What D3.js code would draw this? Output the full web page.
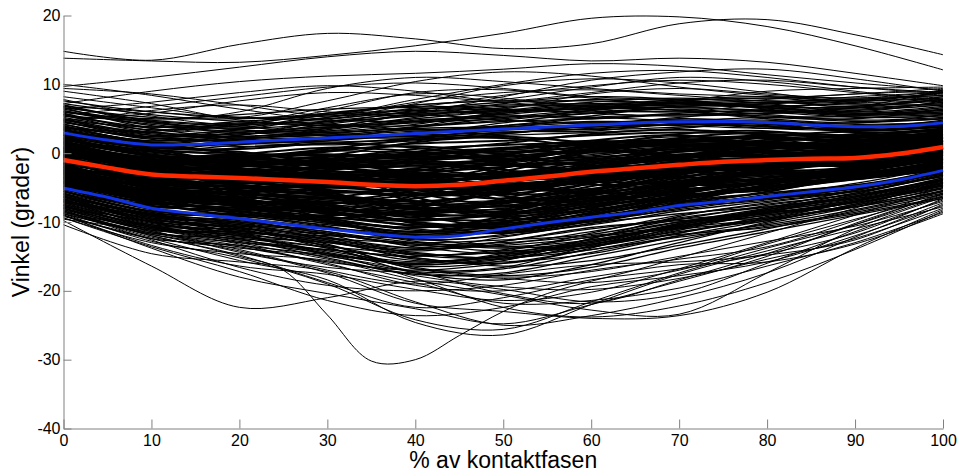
<!DOCTYPE html>
<html>
<head>
<meta charset="utf-8">
<script src="https://cdn.jsdelivr.net/npm/d3@7"></script>
<style>
  html, body { margin: 0; padding: 0; background: #fff; }
  svg { display: block; }
  .tick text { font-family: "Liberation Sans", Arial, sans-serif; font-size: 16px; fill: #000; }
</style>
</head>
<body>
<svg id="chart" width="959" height="475"></svg>
<script>
// Sample positions (% of contact phase)
const pct = [0, 10, 20, 30, 40, 50, 60, 70, 80, 90, 100];
const pct5 = [0, 5, 10, 15, 20, 25, 30, 35, 40, 45, 50, 55, 60, 65, 70, 75, 80, 85, 90, 95, 100];

const xTicks = [0, 10, 20, 30, 40, 50, 60, 70, 80, 90, 100];
const yTicks = [-40, -30, -20, -10, 0, 10, 20];

// Individual trials, joint angle (degrees) at each value of pct
const trialsCentral = [
  [-1.2,-3.0,-3.9,-4.5,-5.0,-4.2,-3.1,-1.9,-1.0,-0.4,1.0],
  [-0.5,-2.8,-3.2,-3.5,-3.9,-3.6,-2.5,-1.2,-0.8,-0.9,0.5],
  [-1.8,-4.1,-4.4,-4.0,-4.3,-4.6,-3.5,-2.2,-1.5,-1.2,0.2],
  [0.2,-2.5,-3.0,-4.6,-5.8,-5.2,-3.8,-2.5,-1.9,-0.8,1.4],
  [-2.4,-4.6,-4.8,-5.0,-5.4,-4.2,-2.2,-0.8,-0.3,0.1,1.6],
  [-0.8,-3.6,-3.1,-3.0,-3.4,-3.0,-2.0,-1.0,-1.3,-1.5,0.0],
  [-1.5,-3.2,-4.2,-5.3,-6.0,-5.5,-4.2,-2.8,-1.6,-0.5,1.2],
  [0.5,-1.9,-2.5,-3.2,-4.0,-4.4,-3.6,-2.4,-1.4,-0.6,0.6],
  [-2.0,-3.9,-3.4,-3.0,-3.2,-2.8,-1.6,-0.4,0.2,0.0,1.8],
  [-1.0,-3.5,-4.6,-5.6,-5.2,-3.9,-2.4,-1.4,-1.2,-1.0,0.4],
  [-0.2,-2.2,-3.6,-4.8,-4.4,-3.2,-2.6,-2.0,-1.0,0.4,2.0],
  [-1.6,-4.4,-4.0,-3.6,-4.9,-5.0,-3.0,-1.2,-0.6,-0.2,0.9],
  [-0.6,-3.1,-3.8,-4.2,-3.6,-2.9,-2.2,-1.8,-1.8,-1.1,0.3],
  [-2.8,-4.8,-5.2,-4.6,-4.0,-3.4,-3.2,-2.6,-1.4,-0.3,1.1],
  [0.8,-1.6,-2.4,-3.9,-5.3,-5.9,-4.4,-2.2,-0.9,-0.4,1.3],
  [-1.3,-3.8,-3.5,-3.3,-4.7,-4.8,-3.9,-2.9,-2.0,-1.2,0.1],
  [-0.9,-2.6,-2.8,-3.6,-4.2,-3.4,-1.9,-0.6,-0.1,-0.2,1.5],
  [-2.1,-4.2,-4.9,-5.5,-6.2,-5.6,-3.6,-1.6,-1.1,-1.3,0.6],
  [0.0,-2.9,-3.3,-2.7,-3.0,-3.6,-3.4,-2.0,-0.7,0.3,1.9],
  [-1.4,-3.4,-3.7,-4.4,-4.9,-4.1,-2.7,-1.5,-1.2,-0.9,0.7],
  [2.0,-0.5,-2.4,-3.8,-2.6,-0.4,1.8,2.6,1.2,-0.4,1.6],
  [-3.4,-6.8,-5.2,-2.6,-1.4,-2.8,-4.6,-4.0,-2.2,0.6,2.8],
  [0.4,-4.2,-7.6,-8.4,-6.2,-3.4,-1.0,0.6,0.2,-1.6,-0.8],
  [-4.4,-4.0,-2.0,-1.2,-3.4,-6.8,-7.4,-5.2,-2.6,-1.4,0.2],
  [1.4,0.2,-1.2,-0.4,1.6,2.4,1.4,-0.6,-2.4,-2.0,0.4],
  [-2.6,-6.2,-8.8,-9.6,-8.0,-5.6,-3.0,-1.8,-2.4,-3.6,-2.2],
  [-0.2,-2.0,-1.0,-2.8,-6.4,-8.8,-7.2,-3.8,-0.8,1.0,2.2],
  [-5.0,-7.4,-6.0,-4.2,-4.6,-6.0,-5.4,-3.0,-0.6,0.4,1.0],
  [2.6,1.0,0.2,-1.6,-3.8,-5.2,-4.0,-1.4,0.8,2.2,3.6],
  [-1.8,-5.2,-6.8,-7.0,-5.4,-2.2,0.4,1.8,2.6,2.4,3.0],
  [0.8,-2.4,-4.8,-6.2,-7.4,-7.0,-4.8,-2.6,-1.2,-0.2,1.2],
  [-3.8,-5.4,-4.2,-5.6,-9.0,-10.4,-8.0,-4.2,-2.0,-1.8,-0.4],
  [1.0,-1.6,-3.0,-2.0,0.2,1.4,2.8,3.4,2.6,1.4,2.0],
  [-2.2,-3.8,-6.4,-9.4,-10.8,-9.2,-6.0,-3.4,-2.8,-2.6,-0.6],
  [-0.8,-4.8,-5.6,-4.0,-2.2,-1.8,-2.8,-3.6,-2.8,-0.8,1.6],
  [3.4,0.6,-1.4,-3.4,-5.0,-4.2,-2.0,0.2,1.2,0.4,1.0],
  [-4.6,-7.0,-8.2,-7.4,-6.0,-5.2,-5.8,-5.6,-4.0,-1.8,0.0],
  [0.0,-1.2,-0.2,0.8,0.2,-1.4,-2.6,-2.2,-0.4,0.8,2.6],
  [-1.2,-4.4,-7.2,-10.0,-11.4,-10.0,-7.6,-5.4,-4.2,-2.8,-0.2],
  [2.4,-0.2,-0.6,0.6,2.0,2.2,0.8,-0.4,0.2,1.6,3.2],
  [-3.0,-4.6,-3.8,-3.2,-5.8,-7.6,-6.6,-6.0,-5.4,-3.6,-1.8],
  [-0.4,-3.6,-5.0,-6.0,-7.0,-5.8,-3.4,-0.6,1.0,1.2,2.4],
  [1.8,-1.8,-3.6,-3.0,-2.4,-3.2,-2.0,-0.2,-0.6,-1.4,0.8],
  [-2.8,-5.8,-7.8,-8.6,-9.8,-8.6,-5.8,-3.6,-2.0,-0.6,1.4],
  [0.6,-0.8,-2.2,-4.4,-4.2,-2.0,-0.8,-1.2,-2.2,-1.0,0.6],
  [-4.0,-6.6,-6.8,-5.0,-3.0,-3.8,-6.2,-7.0,-5.6,-3.2,-1.6],
  [2.8,0.8,0.6,1.4,0.8,-0.8,-1.0,0.4,2.4,3.2,3.8],
  [-1.6,-2.8,-4.8,-7.6,-8.8,-6.6,-3.8,-2.8,-3.0,-2.2,0.0],
  [-0.6,-3.4,-2.4,-1.6,-2.8,-4.8,-5.2,-3.2,-1.0,0.0,1.4],
  [1.6,-1.0,-2.6,-5.6,-8.2,-8.4,-5.6,-2.4,-0.4,0.6,2.2],
  [-3.6,-6.4,-7.4,-6.6,-7.8,-9.4,-9.6,-7.2,-4.6,-2.4,-1.0],
  [0.2,-2.6,-3.4,-2.4,-1.2,0.6,1.8,0.8,-0.8,-0.6,1.8],
  [-2.4,-4.4,-5.4,-5.8,-5.2,-4.8,-4.2,-3.0,-1.8,-1.6,-0.2],
  [1.2,-0.6,-0.4,-1.8,-3.6,-2.6,0.2,2.2,3.0,2.6,3.4],
  [-5.2,-7.8,-7.2,-7.6,-10.2,-10.8,-8.6,-6.4,-4.8,-3.8,-2.4],
  [-1.0,-2.4,-4.0,-5.0,-4.4,-4.6,-5.6,-4.4,-2.4,-0.2,1.8],
  [0.4,-3.0,-6.0,-7.2,-6.6,-4.2,-1.6,0.4,0.8,0.0,1.0],
  [-2.0,-3.6,-2.6,-3.8,-7.0,-8.6,-6.8,-4.8,-3.6,-2.0,-0.2],
  [3.0,1.4,-0.2,-2.0,-2.6,-1.2,1.0,2.8,3.2,2.0,2.6],
  [-3.2,-7.2,-9.0,-9.0,-8.6,-7.2,-6.0,-4.2,-2.2,-0.8,0.4],
  [-0.4,-1.4,-1.8,-2.6,-3.0,-1.4,0.6,1.2,0.4,-0.6,0.8],
  [-4.2,-6.0,-5.0,-6.2,-8.0,-7.0,-4.4,-2.6,-2.6,-3.0,-1.6],
  [1.4,-1.4,-4.2,-4.6,-3.0,-2.0,-1.4,-0.4,1.6,2.8,3.2],
  [-2.6,-5.0,-5.8,-7.4,-10.2,-11.6,-9.8,-6.6,-4.2,-2.2,0.2],
  [0.0,-2.0,-2.6,-3.4,-5.4,-6.6,-5.2,-2.8,-1.4,-1.2,1.0],
  [-1.4,-3.0,-5.6,-6.4,-4.8,-3.2,-3.0,-2.4,-1.0,0.6,2.4],
  [2.2,-0.4,-1.6,-2.2,-1.4,-2.4,-3.8,-2.8,-0.8,0.2,1.6],
  [-3.4,-5.6,-6.6,-8.2,-7.6,-5.4,-4.2,-4.6,-4.4,-2.8,-0.8],
  [-0.2,-3.8,-4.4,-3.2,-3.8,-6.2,-7.0,-5.0,-2.2,0.2,2.0],
  [0.8,-1.6,-1.0,0.4,1.0,-0.2,-1.8,-1.4,0.6,1.8,2.8],
  [0.4,-2.2,-1.6,-0.8,0.6,1.2,1.6,2.0,1.4,0.8,2.2],
  [-1.0,-2.6,-2.0,-1.2,-0.4,0.6,1.4,1.8,2.2,1.8,2.4],
  [1.6,-0.2,-1.4,-1.0,0.0,0.2,0.2,0.6,1.2,1.0,1.4],
  [-0.4,-3.0,-2.8,-1.8,-0.8,-0.4,0.4,1.6,1.4,0.2,1.2],
  [0.8,-1.2,-0.8,0.2,1.4,1.8,2.6,3.0,2.8,2.2,3.0],
  [-1.6,-3.2,-2.8,-2.2,-1.8,-1.0,-0.6,0.2,0.8,0.6,1.8],
  [2.0,0.4,0.0,-0.4,-0.2,0.8,1.2,1.0,0.4,0.6,2.0],
  [0.0,-1.8,-2.4,-2.0,-1.2,-1.6,-1.2,-0.2,0.6,1.2,2.6],
  [-3.8,-6.0,-7.4,-8.8,-9.6,-9.0,-7.8,-6.2,-4.8,-3.2,-1.2],
  [-2.8,-5.4,-7.0,-8.0,-9.4,-9.8,-8.4,-6.0,-4.0,-2.6,-0.8],
  [-4.8,-7.2,-8.0,-9.2,-10.4,-10.0,-8.0,-5.8,-4.4,-3.6,-1.8],
  [-3.0,-6.6,-7.6,-8.4,-10.0,-10.6,-9.0,-6.8,-5.0,-3.4,-1.6],
  [-4.0,-6.2,-7.8,-9.8,-10.8,-9.6,-7.6,-6.4,-5.2,-3.8,-2.0],
  [-3.6,-5.8,-6.6,-8.6,-10.6,-10.2,-8.8,-6.6,-4.6,-2.8,-0.6],
  [-2.4,-5.6,-7.2,-8.2,-8.8,-9.2,-8.2,-6.4,-5.0,-3.6,-1.4],
  [-4.4,-6.8,-8.4,-9.4,-9.8,-8.8,-7.4,-5.6,-4.2,-3.0,-1.2]
];

const trialsAboveMean = [
  [1.2,-1.0,-0.8,-1.1,-0.6,0.0,0.8,1.6,1.7,1.2,2.6],
  [0.6,-1.5,-1.4,-0.4,-0.2,-0.6,0.2,1.0,1.4,1.8,3.0],
  [1.8,-0.4,-0.2,-0.8,-1.5,-1.0,0.4,1.9,2.2,1.6,2.4],
  [0.2,-1.8,-1.6,-1.3,-0.8,0.4,1.2,1.4,1.0,1.0,2.2],
  [1.5,-0.8,-1.2,-1.9,-2.0,-1.2,-0.2,1.0,1.8,2.0,2.8],
  [-0.2,-1.3,-0.5,-0.2,-0.9,-0.5,0.7,2.1,2.4,1.9,3.2],
  [2.2,0.0,-0.7,-1.4,-1.2,-0.2,1.0,1.5,1.2,0.9,2.0],
  [0.9,-1.2,-1.0,-0.6,0.2,0.6,0.0,0.8,1.6,1.4,2.5],
  [1.0,-0.9,-1.8,-2.2,-1.6,-0.8,0.6,1.2,1.9,2.4,3.4],
  [0.4,-1.6,-1.1,-1.5,-1.0,-0.1,1.4,2.4,2.0,1.1,2.1],
  [1.6,-1.4,-0.6,0.3,0.0,-0.9,-0.4,0.9,1.3,1.6,2.9],
  [-0.4,-2.0,-1.9,-1.2,-0.3,0.2,0.9,1.3,1.5,1.3,2.3],
  [2.6,0.5,-0.3,-0.9,-1.8,-1.5,0.1,1.7,2.3,2.0,2.7],
  [0.7,-1.1,-1.3,-0.9,-0.5,-0.4,0.3,1.2,1.1,1.5,2.6],
  [1.3,-0.6,-0.4,-0.1,-0.7,-0.2,1.1,2.0,1.6,1.2,1.8],
  [3.2,1.0,1.5,2.0,2.6,3.0,3.6,4.2,4.0,3.4,4.0],
  [2.5,0.4,1.2,2.4,3.2,3.6,3.4,3.8,4.4,4.0,4.6],
  [3.8,1.6,1.0,1.4,2.2,3.4,4.2,4.8,4.2,3.2,3.8],
  [2.8,0.8,2.0,2.8,2.4,2.8,4.0,4.6,3.8,3.6,4.8],
  [4.2,2.0,1.8,1.6,2.0,2.6,3.0,3.6,4.6,4.2,4.4],
  [2.0,0.2,0.8,1.8,3.0,3.8,4.4,4.0,3.6,3.8,4.2],
  [3.5,1.4,2.2,2.6,3.4,3.2,3.2,4.4,4.8,3.8,4.1],
  [2.6,1.2,1.4,1.2,1.8,2.8,4.0,5.0,4.4,3.0,3.6],
  [3.0,0.6,1.6,2.2,2.8,3.4,3.8,4.2,3.9,3.5,4.5],
  [3.6,1.8,2.4,3.0,3.6,3.8,3.8,4.6,4.2,4.4,5.0],
  [2.3,0.9,1.9,2.3,2.2,3.0,3.5,4.1,4.3,3.6,4.3],
  [4.0,1.5,1.3,2.0,3.0,4.0,4.6,4.4,3.6,3.3,4.0],
  [5.2,3.4,4.0,5.0,6.0,6.8,7.0,7.2,6.6,5.8,6.2],
  [6.0,4.2,3.2,3.8,5.0,6.2,7.4,8.0,7.2,6.0,6.8],
  [4.6,2.6,3.6,5.6,6.8,6.4,6.0,6.8,7.4,7.0,7.6],
  [6.8,4.8,4.2,4.6,5.4,6.6,7.8,7.6,6.8,6.6,7.2],
  [5.6,3.0,2.8,3.6,5.2,7.2,8.2,7.8,6.4,5.6,6.0],
  [7.2,5.6,4.6,4.0,4.4,5.6,6.6,7.0,7.4,7.8,8.4],
  [4.8,3.8,4.6,5.4,5.8,6.0,6.6,7.6,8.0,7.2,7.0],
  [6.4,4.4,3.6,4.4,6.2,7.4,7.6,7.2,6.8,7.4,8.8],
  [5.0,2.8,2.4,3.2,4.6,5.8,6.8,7.8,8.2,7.6,8.0],
  [6.6,5.2,5.0,5.6,6.4,7.0,7.2,7.4,7.0,6.4,7.4],
  [4.2,2.2,2.6,4.2,5.6,6.2,6.4,6.6,6.2,5.4,5.6],
  [7.0,4.6,3.4,3.0,3.8,5.2,6.4,7.4,7.6,6.8,9.2],
  [4.6,2.2,2.0,3.4,4.8,5.2,5.8,6.4,5.6,4.8,5.2],
  [5.8,3.2,1.8,2.0,3.8,5.8,6.8,6.2,5.2,5.0,6.4],
  [3.6,3.2,4.4,4.2,3.4,4.0,5.4,6.8,6.6,5.6,5.8],
  [6.2,4.0,3.0,2.6,2.4,3.6,5.2,5.6,5.8,6.2,7.0],
  [4.0,1.6,2.6,4.6,5.6,4.8,4.4,5.2,6.4,6.8,7.8],
  [5.4,4.6,3.8,3.2,4.2,6.0,7.0,6.8,6.0,5.2,5.4],
  [3.4,1.8,3.0,3.8,4.0,4.8,6.2,7.2,6.8,5.8,6.6],
  [6.6,3.6,2.4,3.6,5.8,6.4,5.8,5.4,5.8,6.6,8.2],
  [4.4,3.0,2.2,2.8,3.8,4.6,5.0,5.8,6.2,5.6,6.0],
  [5.0,2.4,3.4,5.2,6.2,5.6,5.0,5.6,5.4,4.6,5.0],
  [7.6,6.0,5.2,4.8,4.6,5.0,6.2,7.2,6.6,6.0,7.6],
  [4.8,2.6,1.6,1.8,2.8,4.4,5.8,6.0,5.0,4.4,5.6],
  [6.0,5.0,5.6,6.4,6.6,6.2,6.4,6.8,7.2,7.6,8.8],
  [3.8,2.4,2.8,3.6,4.6,5.4,5.2,4.8,5.2,5.4,6.4],
  [5.6,3.8,4.2,5.8,7.0,7.6,6.8,6.2,6.0,6.6,7.8]
];

const trialsBelowMean = [
  [-3.2,-5.4,-6.0,-7.0,-8.2,-7.6,-6.0,-4.4,-3.6,-2.6,-0.8],
  [-2.6,-5.9,-6.8,-7.8,-8.8,-8.0,-6.6,-4.9,-3.9,-3.0,-1.2],
  [-3.8,-6.2,-6.0,-6.4,-7.2,-7.8,-6.8,-5.0,-3.5,-2.2,-0.4],
  [-2.2,-5.0,-6.6,-8.2,-9.0,-7.4,-5.4,-4.0,-3.8,-3.2,-1.4],
  [-3.5,-5.6,-5.6,-6.5,-7.9,-8.6,-7.0,-4.6,-3.0,-2.4,-0.6],
  [-2.9,-6.0,-7.0,-7.2,-7.6,-7.0,-5.8,-4.8,-4.2,-3.1,-1.0],
  [-4.1,-6.4,-6.4,-7.6,-9.2,-8.4,-6.2,-4.0,-3.2,-2.8,-1.6],
  [-2.4,-5.2,-5.8,-6.8,-8.0,-8.2,-7.2,-5.4,-4.0,-2.4,-0.2],
  [-3.0,-5.8,-6.4,-7.4,-8.6,-7.2,-5.6,-4.2,-3.4,-3.0,-1.3],
  [-3.6,-5.3,-6.2,-7.9,-8.4,-7.6,-6.4,-5.2,-4.4,-3.4,-1.1],
  [-2.0,-5.1,-6.0,-6.6,-7.4,-7.8,-6.4,-4.6,-3.6,-2.2,-0.5],
  [-3.3,-6.1,-6.9,-8.0,-9.0,-8.8,-6.9,-4.7,-3.3,-2.6,-0.9],
  [-2.7,-5.5,-5.9,-6.2,-7.0,-6.9,-5.9,-4.5,-3.8,-3.0,-1.5],
  [-4.3,-6.6,-7.1,-7.5,-8.1,-7.3,-6.1,-4.9,-3.9,-2.7,-0.7],
  [-3.1,-5.7,-6.3,-7.1,-8.5,-8.1,-6.5,-4.3,-3.1,-2.5,-1.0],
  [-5.2,-7.6,-8.6,-10.2,-12.0,-11.4,-9.4,-7.4,-6.4,-5.2,-2.8],
  [-4.6,-8.2,-9.4,-10.8,-11.6,-10.6,-9.2,-7.8,-6.8,-5.0,-2.4],
  [-5.6,-7.8,-8.2,-9.8,-12.4,-12.0,-10.2,-7.6,-5.8,-4.6,-3.0],
  [-4.4,-8.0,-9.6,-11.0,-11.8,-11.0,-9.8,-8.2,-6.6,-5.4,-2.6],
  [-5.8,-8.4,-8.8,-9.8,-11.2,-11.6,-9.6,-7.0,-5.8,-4.8,-2.2],
  [-4.8,-7.4,-8.8,-10.6,-12.6,-11.8,-9.0,-7.2,-6.6,-5.6,-3.2],
  [-5.4,-8.6,-9.2,-10.4,-11.4,-10.8,-10.0,-8.0,-6.2,-4.4,-2.0],
  [-5.0,-7.2,-8.4,-10.0,-12.2,-11.2,-9.2,-7.4,-6.6,-5.2,-3.4],
  [-6.2,-8.8,-9.0,-10.2,-11.8,-11.4,-9.8,-7.8,-6.0,-4.6,-2.6],
  [-4.2,-7.0,-8.0,-9.6,-11.0,-11.6,-10.4,-8.4,-7.0,-5.4,-2.9],
  [-5.5,-8.1,-9.1,-10.7,-12.1,-11.1,-9.5,-7.5,-6.3,-5.1,-2.5],
  [-4.9,-7.7,-8.5,-9.9,-11.5,-11.3,-9.7,-7.7,-6.5,-4.9,-2.7],
  [-7.0,-10.2,-11.6,-13.4,-15.6,-15.0,-13.0,-10.6,-9.0,-7.2,-4.6],
  [-6.4,-9.6,-11.0,-13.8,-16.4,-15.6,-12.4,-10.0,-9.4,-7.6,-5.2],
  [-7.6,-10.8,-12.2,-13.0,-14.8,-14.4,-13.6,-11.2,-8.6,-6.6,-4.0],
  [-6.8,-9.8,-11.8,-14.4,-16.0,-14.6,-12.6,-10.8,-9.6,-7.8,-5.6],
  [-8.0,-11.2,-11.4,-12.8,-15.2,-16.0,-13.8,-10.2,-8.4,-6.8,-3.8],
  [-7.2,-10.4,-12.6,-14.0,-15.0,-14.0,-12.2,-11.0,-9.8,-7.4,-4.8],
  [-6.0,-9.0,-11.2,-13.2,-16.8,-16.6,-13.4,-10.4,-8.8,-7.0,-4.4],
  [-8.4,-11.6,-12.4,-13.6,-14.6,-15.2,-14.0,-11.6,-9.2,-7.2,-5.0],
  [-7.4,-10.0,-10.8,-12.6,-15.4,-15.8,-14.6,-12.0,-9.8,-7.6,-4.2],
  [-6.6,-10.6,-12.0,-14.2,-15.8,-14.8,-12.8,-10.2,-8.2,-6.4,-3.6],
  [-7.8,-10.4,-11.2,-13.0,-14.4,-15.4,-13.2,-11.4,-9.6,-7.0,-4.8],
  [-8.6,-11.0,-12.8,-14.6,-16.2,-15.2,-13.6,-10.8,-8.6,-7.8,-5.4],
  [-6.6,-9.2,-10.2,-11.6,-13.4,-13.2,-11.4,-9.4,-7.8,-6.2,-3.6],
  [-5.8,-9.4,-11.4,-12.4,-13.0,-12.6,-11.8,-9.6,-7.6,-5.8,-3.2],
  [-7.2,-9.0,-9.8,-11.8,-14.6,-14.2,-11.6,-9.0,-7.4,-6.0,-3.8],
  [-6.2,-9.6,-10.6,-11.0,-12.8,-13.8,-12.8,-10.4,-8.4,-6.4,-4.0],
  [-7.0,-8.8,-10.8,-12.8,-14.2,-12.8,-10.8,-9.8,-8.8,-6.8,-4.2],
  [-5.6,-8.4,-9.6,-12.2,-14.8,-15.0,-12.4,-9.2,-7.2,-5.6,-3.4],
  [-6.4,-10.0,-11.6,-12.0,-12.4,-13.6,-13.4,-11.0,-8.2,-5.8,-3.0],
  [-7.8,-9.8,-10.4,-12.4,-13.8,-12.2,-10.2,-8.8,-7.8,-6.6,-4.6],
  [-6.0,-9.0,-10.0,-11.4,-13.6,-14.6,-13.2,-10.8,-8.0,-5.4,-2.8],
  [-7.4,-10.6,-11.0,-11.8,-13.2,-13.0,-12.0,-10.6,-9.0,-7.0,-4.4],
  [-8.2,-11.0,-12.0,-14.8,-17.2,-16.8,-14.4,-12.0,-10.4,-8.2,-5.6],
  [-7.0,-10.0,-12.4,-15.2,-17.6,-17.4,-15.0,-12.6,-10.2,-7.8,-5.0],
  [-8.8,-11.8,-13.6,-15.8,-17.0,-16.0,-14.0,-12.2,-10.6,-8.6,-6.0],
  [-6.8,-9.6,-10.8,-13.6,-17.4,-18.4,-16.2,-13.0,-10.0,-7.4,-4.6],
  [-7.6,-11.4,-13.0,-14.0,-15.2,-16.4,-15.6,-13.4,-11.0,-8.4,-5.8],
  [-8.0,-10.8,-11.8,-13.4,-16.6,-17.8,-16.6,-13.8,-11.4,-9.0,-6.6],
  [-9.0,-12.4,-13.4,-14.8,-16.0,-15.0,-13.2,-11.8,-10.8,-8.8,-6.4],
  [-6.2,-9.2,-11.6,-14.6,-16.2,-15.4,-13.6,-11.6,-9.4,-7.0,-4.0],
  [-6.4,-9.0,-10.6,-12.2,-13.8,-13.4,-12.2,-10.0,-8.0,-6.2,-3.8],
  [-5.6,-8.6,-10.0,-11.4,-13.0,-13.6,-12.6,-10.6,-8.6,-6.0,-3.2],
  [-6.8,-9.4,-10.2,-12.6,-14.0,-12.8,-11.0,-9.6,-8.6,-7.0,-4.4],
  [-6.0,-8.8,-10.4,-11.8,-13.2,-14.2,-13.0,-10.4,-8.2,-6.4,-4.0]
];

const trialsHigh = [
  [14.8,13.5,15.8,17.4,16.6,15.2,15.9,18.8,19.4,17.2,14.3],
  [13.8,13.4,13.2,14.2,15.6,17.4,19.6,19.8,18.4,15.6,12.1],
  [9.7,11.0,12.5,14.0,14.8,14.2,13.4,13.8,13.2,11.6,9.8],
  [9.4,8.6,7.0,5.6,7.8,10.0,11.6,12.0,11.0,9.6,8.6],
  [7.2,9.0,10.4,11.2,11.6,12.2,13.0,12.6,11.4,10.2,9.2],
  [10.0,8.4,6.4,5.0,6.6,8.4,9.8,10.6,10.0,8.8,7.8],
  [6.8,6.0,5.2,7.6,10.4,11.8,11.2,9.6,8.4,8.0,8.6],
  [9.0,7.2,4.8,4.0,5.8,8.2,10.6,11.8,12.2,10.8,9.0],
  [5.6,6.8,8.2,9.6,10.2,9.4,8.2,7.8,8.0,8.6,9.4],
  [7.8,5.4,4.2,6.2,8.8,9.2,8.0,7.2,7.8,8.6,9.0],
  [6.0,4.8,6.0,9.4,11.0,10.4,9.4,8.6,8.2,7.6,8.2],
  [4.8,5.8,7.6,8.8,8.4,7.6,8.8,10.2,10.6,9.6,8.8],
  [7.0,4.4,3.8,5.2,7.4,8.8,9.2,8.4,7.6,7.8,8.4],
  [8.2,6.6,5.2,5.8,7.0,7.8,9.6,11.0,10.4,9.0,7.6],
  [6.4,7.4,8.8,9.8,9.0,7.4,6.8,7.6,9.0,9.4,9.6],
  [5.4,3.6,3.0,4.8,7.2,9.8,10.8,10.2,8.8,7.4,7.8],
  [3.8,3.0,4.2,6.6,8.6,8.0,6.4,6.0,7.2,8.2,8.8],
  [4.4,6.2,7.0,6.0,5.4,6.4,8.6,9.4,8.6,8.0,9.0]
];

const trialsLow = [
  [-9.8,-16.4,-22.4,-21.0,-18.6,-19.8,-21.6,-20.4,-16.0,-11.4,-6.8],
  [-9.0,-13.8,-18.0,-20.4,-22.6,-24.8,-22.0,-18.6,-15.0,-10.2,-6.0],
  [-8.4,-12.6,-16.6,-19.2,-20.0,-19.2,-17.0,-15.4,-13.6,-9.8,-5.4],
  [-10.4,-14.6,-15.8,-17.2,-21.6,-25.0,-23.6,-21.0,-17.4,-12.2,-7.2],
  [-8.8,-11.8,-14.2,-17.4,-21.8,-23.0,-24.0,-23.6,-20.2,-13.8,-8.2],
  [-9.4,-13.0,-14.6,-15.6,-18.4,-20.6,-22.8,-23.4,-17.4,-11.0,-6.4],
  [-8.0,-11.0,-13.2,-16.2,-18.8,-21.8,-21.4,-19.6,-16.4,-13.0,-8.6],
  [-9.2,-12.4,-15.6,-18.4,-24.6,-26.4,-22.0,-17.6,-14.2,-11.0,-7.8],
  [-7.6,-10.6,-13.0,-15.4,-17.8,-19.4,-19.8,-18.2,-15.4,-12.4,-8.0],
  [-8.6,-12.0,-14.8,-18.8,-22.4,-21.0,-18.4,-16.8,-14.6,-11.6,-6.6],
  [-7.2,-10.8,-12.6,-14.6,-18.2,-22.4,-23.8,-22.2,-18.8,-14.0,-8.4],
  [-9.6,-11.4,-14.0,-17.0,-19.0,-17.6,-16.2,-15.8,-14.8,-12.6,-7.4],
  [-8.2,-12.2,-13.8,-15.0,-17.2,-20.4,-21.8,-18.4,-14.6,-10.4,-5.8],
  [-7.8,-11.2,-14.4,-16.6,-17.4,-18.2,-18.8,-17.0,-13.2,-9.6,-6.2],
  [-6.8,-10.0,-12.0,-13.8,-16.8,-18.0,-17.2,-15.0,-12.8,-10.6,-7.0],
  [-9.0,-13.4,-16.4,-17.6,-19.8,-21.4,-20.2,-16.8,-13.0,-9.0,-5.0],
  [-8.4,-11.6,-13.4,-16.0,-19.2,-20.0,-18.0,-16.2,-15.8,-13.2,-8.8],
  [-8.8,-12.8,-15.2,-19.0,-24.2,-25.6,-21.6,-17.4,-13.8,-10.4,-6.2],
  [-9.4,-13.6,-17.2,-21.4,-23.6,-22.4,-19.4,-17.8,-15.8,-12.0,-7.6]
];

// Deepest trial, sampled at pct5
const trialDeep = [-8.0,-10.2,-12.0,-13.4,-15.0,-17.0,-23.5,-30.2,-30.0,-26.5,-23.0,-20.4,-18.6,-17.0,-15.2,-13.4,-11.6,-9.8,-8.0,-6.0,-4.0];

// Group mean and mean ± 1 SD, sampled at pct5
const meanAngle = [-1.0,-2.1,-3.1,-3.4,-3.6,-3.9,-4.2,-4.6,-4.8,-4.6,-4.0,-3.4,-2.7,-2.2,-1.7,-1.25,-1.0,-0.8,-0.7,-0.1,0.9];
const sdUpper = [2.95,1.9,1.2,1.3,1.6,1.9,2.2,2.5,2.85,3.2,3.5,3.8,4.1,4.4,4.55,4.6,4.45,4.1,3.85,3.9,4.4];
const sdLower = [-5.1,-6.4,-8.0,-8.8,-9.5,-10.3,-11.0,-11.7,-12.2,-12.0,-11.0,-10.1,-9.3,-8.6,-7.6,-7.0,-6.3,-5.6,-4.9,-3.9,-2.5];

const svg = d3.select("#chart");
const x = d3.scaleLinear().domain([0, 100]).range([63.5, 943]);
const y = d3.scaleLinear().domain([-40, 20]).range([428.5, 15.5]);

const lineOn = grid => d3.line()
  .x((d, i) => x(grid[i]))
  .y(d => y(d))
  .curve(d3.curveCatmullRom.alpha(0.5));

// Outlying trials drawn thin; the dense core heavier so it reads as a solid band
const trials = svg.append("g").attr("fill", "none").attr("stroke", "#000");
trials.selectAll("path.outer")
  .data([].concat(trialsHigh, trialsLow))
  .join("path")
  .attr("class", "outer")
  .attr("stroke-width", 1)
  .attr("d", lineOn(pct));
trials.append("path").attr("stroke-width", 1).attr("d", lineOn(pct5)(trialDeep));
trials.selectAll("path.side")
  .data([].concat(trialsAboveMean, trialsBelowMean))
  .join("path")
  .attr("class", "side")
  .attr("stroke-width", 1.3)
  .attr("d", lineOn(pct));
trials.selectAll("path.core")
  .data(trialsCentral)
  .join("path")
  .attr("class", "core")
  .attr("stroke-width", 2)
  .attr("d", lineOn(pct));

// SD band and mean
svg.append("g").attr("fill", "none").attr("stroke", "#1133e6").attr("stroke-width", 3)
  .selectAll("path").data([sdUpper, sdLower]).join("path")
  .attr("d", lineOn(pct5));
svg.append("path").attr("fill", "none").attr("stroke", "#ff2a00").attr("stroke-width", 4.5)
  .attr("d", lineOn(pct5)(meanAngle));

// Axes: only left and bottom, ticks pointing inward
const yAxis = d3.axisLeft(y).tickValues(yTicks).tickSizeInner(-8).tickSizeOuter(0).tickPadding(3)
  .tickFormat(d => String(d));
const xAxis = d3.axisBottom(x).tickValues(xTicks).tickSizeInner(-9).tickSizeOuter(0).tickPadding(6)
  .tickFormat(d => String(d));

const gy = svg.append("g").attr("transform", `translate(${x(0)},0)`).call(yAxis);
const gx = svg.append("g").attr("transform", `translate(0,${y(-40)})`).call(xAxis);
[gx, gy].forEach(g => {
  g.select(".domain").attr("stroke", "#808080");
  g.selectAll(".tick line").attr("stroke", "#808080");
  g.selectAll("text").attr("font-family", null).attr("font-size", null);
});

svg.append("text")
  .attr("x", (x(0) + x(100)) / 2)
  .attr("y", 468)
  .attr("text-anchor", "middle")
  .attr("font-family", "Liberation Sans, Arial, sans-serif")
  .attr("font-size", 23)
  .text("% av kontaktfasen");

svg.append("text")
  .attr("transform", `translate(29,${(y(20) + y(-40)) / 2}) rotate(-90)`)
  .attr("text-anchor", "middle")
  .attr("font-family", "Liberation Sans, Arial, sans-serif")
  .attr("font-size", 23)
  .text("Vinkel (grader)");
</script>
</body>
</html>
